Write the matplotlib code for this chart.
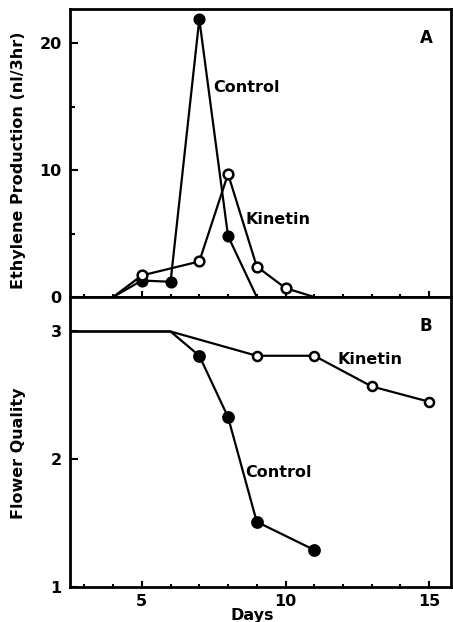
import matplotlib
matplotlib.use("Agg")
import matplotlib.pyplot as plt
from matplotlib.ticker import MultipleLocator

# panel A: ethylene production (nl/3hr)
eth_control_days = [4, 5, 6, 7, 8, 9]
eth_control = [0, 1.3, 1.2, 21.9, 4.8, 0]
eth_kinetin_days = [4, 5, 7, 8, 9, 10, 11]
eth_kinetin = [0, 1.7, 2.8, 9.7, 2.4, 0.7, 0]

# panel B: flower quality
q_control_days = [2.5, 6, 7, 8, 9, 11]
q_control = [3.0, 3.0, 2.81, 2.33, 1.51, 1.29]
q_kinetin_days = [2.5, 6, 9, 11, 13, 15]
q_kinetin = [3.0, 3.0, 2.81, 2.81, 2.57, 2.45]

plt.rcParams['font.family'] = ['DejaVu Sans']
plt.rcParams['font.weight'] = 'bold'
plt.rcParams['axes.labelweight'] = 'bold'

fig = plt.figure(figsize=(4.53, 6.22), dpi=100)
axA = fig.add_axes([0.1545, 0.5225, 0.8405, 0.463])
axB = fig.add_axes([0.1545, 0.0563, 0.8405, 0.4662])

lw = 1.6


def series(ax, x, y, filled, ms, first=1, last=None):
    # whole polyline, then markers only on the measured points
    ax.plot(x, y, color='black', lw=lw, zorder=2)
    mx, my = x[first:last], y[first:last]
    if filled:
        ax.plot(mx, my, 'o', ms=ms, mfc='black', mec='black', mew=1.2, zorder=3)
    else:
        ax.plot(mx, my, 'o', ms=ms, mfc='white', mec='black', mew=1.8, zorder=3)


# --- panel A (first and last points sit on the baseline, no marker)
series(axA, eth_control_days, eth_control, True, 7.5, 1, -1)
series(axA, eth_kinetin_days, eth_kinetin, False, 7, 1, -1)

axA.set_xlim(2.5, 15.75)
axA.set_ylim(0, 22.7)
axA.yaxis.set_major_locator(MultipleLocator(10))
axA.yaxis.set_minor_locator(MultipleLocator(5))
axA.xaxis.set_major_locator(MultipleLocator(5))
axA.xaxis.set_minor_locator(MultipleLocator(1))
axA.set_xticklabels([])
axA.set_ylabel('Ethylene Production (nl/3hr)', fontsize=11.5)
axA.yaxis.set_label_coords(-0.115, 0.476)
axA.text(0.935, 0.9, 'A', transform=axA.transAxes, fontsize=12, ha='center', va='center')

# --- panel B (curves start flat at 3 from the left edge)
series(axB, q_control_days, q_control, True, 8, 2)
series(axB, q_kinetin_days, q_kinetin, False, 6.5, 2)

axB.set_xlim(2.5, 15.75)
axB.set_ylim(1.0, 3.27)
axB.yaxis.set_major_locator(MultipleLocator(1))
axB.xaxis.set_major_locator(MultipleLocator(5))
axB.xaxis.set_minor_locator(MultipleLocator(1))
axB.set_ylabel('Flower Quality', fontsize=11.5)
axB.yaxis.set_label_coords(-0.115, 0.46)
axB.set_xlabel('Days', fontsize=11.5, va='top')
axB.xaxis.set_label_coords(0.479, -0.071)
axB.text(0.935, 0.9, 'B', transform=axB.transAxes, fontsize=12, ha='center', va='center')

for ax in (axA, axB):
    for s in ax.spines.values():
        s.set_linewidth(2)
    ax.tick_params(which='both', direction='in', width=1.5, labelsize=11.5,
                   top=False, right=False)
    ax.tick_params(axis='y', which='major', length=6, pad=6)
    ax.tick_params(axis='y', which='minor', length=3.5)
    ax.tick_params(axis='x', which='major', length=4, pad=5)
    ax.tick_params(axis='x', which='minor', length=2.5)

# curve labels
axA.text(7.5, 16.5, 'Control', fontsize=11.5, va='center')
axA.text(8.6, 6.1, 'Kinetin', fontsize=11.5, va='center')
axB.text(11.8, 2.78, 'Kinetin', fontsize=11.5, va='center')
axB.text(8.6, 1.9, 'Control', fontsize=11.5, va='center')

fig.savefig('out.png', dpi=100)
